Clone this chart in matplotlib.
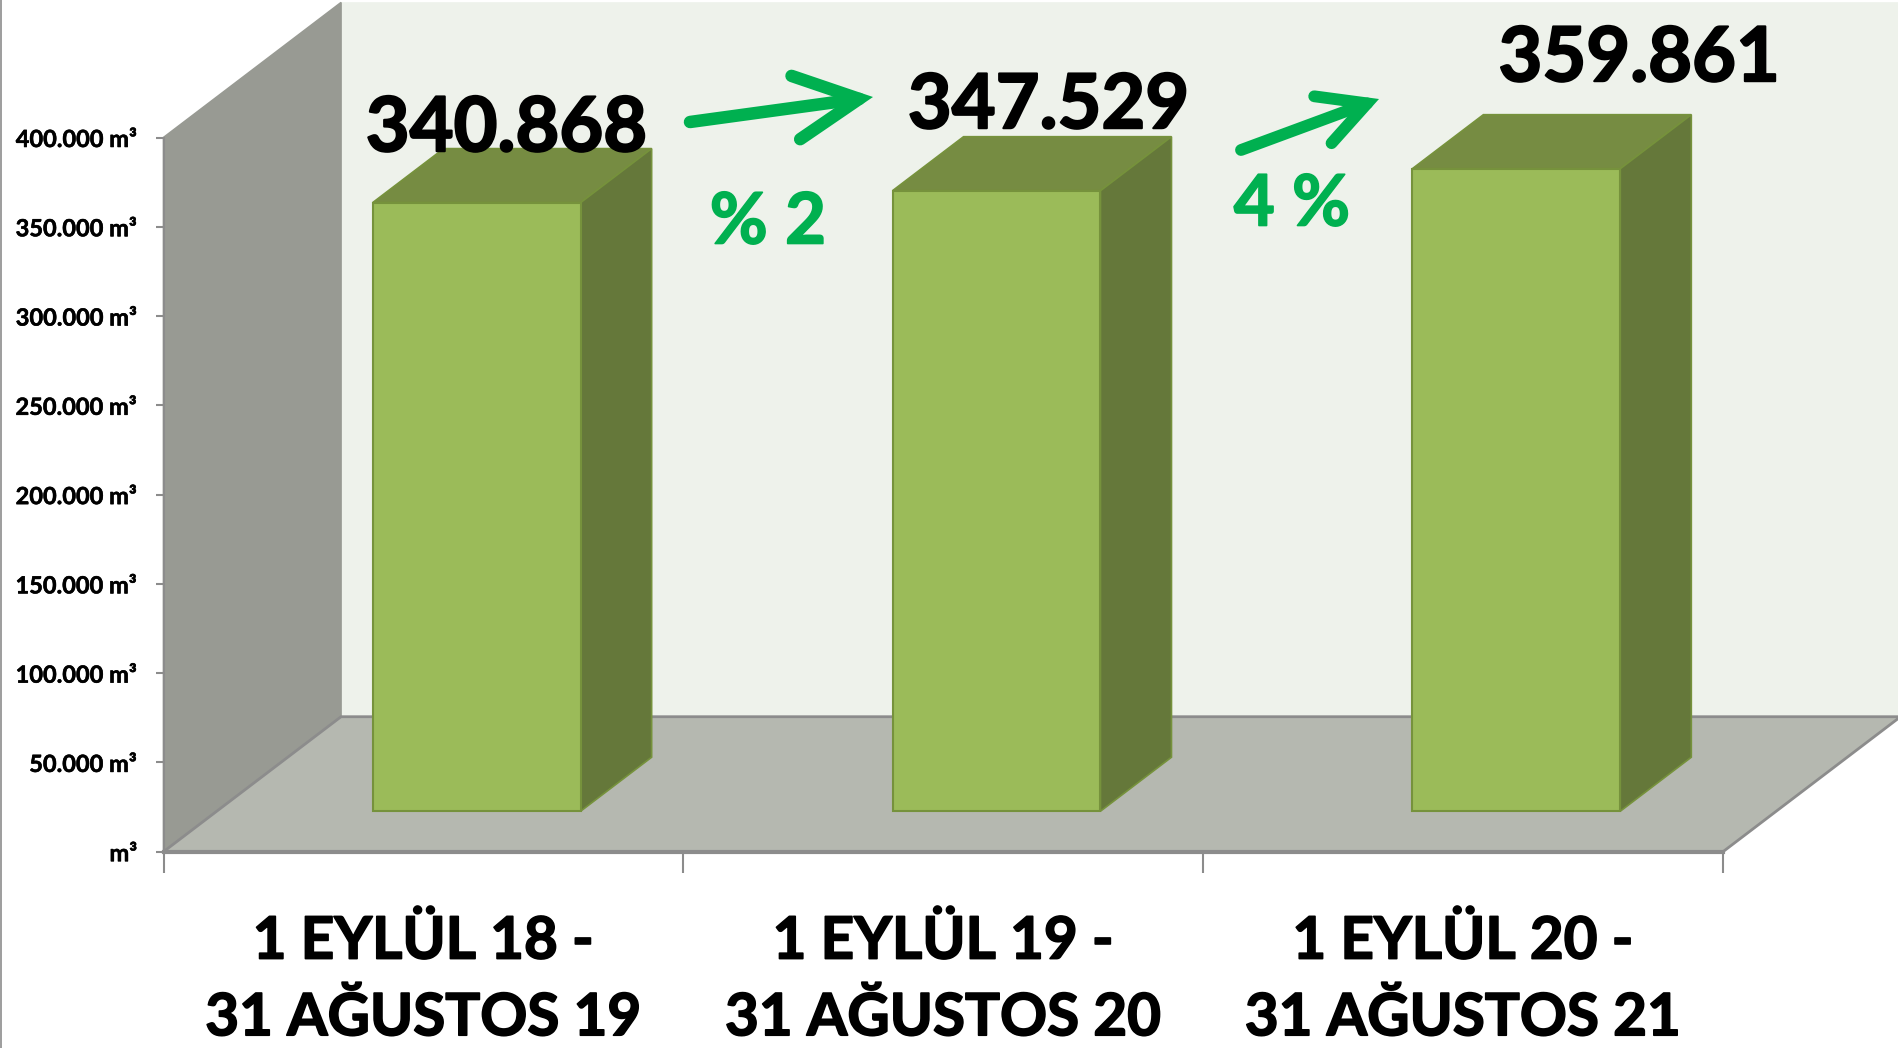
import matplotlib
matplotlib.use('Agg')
import matplotlib.pyplot as plt
import matplotlib.patheffects as pe
from matplotlib.lines import Line2D

plt.rcParams['font.family'] = ['Lato', 'DejaVu Sans']
plt.rcParams['font.weight'] = 'bold'

W, H = 1899, 1048

categories = ['1 EYLÜL 18 -\n31 AĞUSTOS 19', '1 EYLÜL 19 -\n31 AĞUSTOS 20', '1 EYLÜL 20 -\n31 AĞUSTOS 21']
volumes = [340868, 347529, 359861]
y_ticks = [0, 50000, 100000, 150000, 200000, 250000, 300000, 350000, 400000]
changes = ['% 2', '4 %']

GREEN = '#00B050'
FRONT, TOP, SIDE, EDGE = '#9BBB59', '#768C42', '#65783A', '#76923C'
WALL, BACK, FLOOR, LINE = '#989A93', '#EEF2EB', '#B5B8B0', '#8C8C8C'


def px(x, y):
    # reference pixel -> figure fraction
    return x / W, 1 - y / H


def number(v):
    return f'{v:,}'.replace(',', '.')


def heavy(t, lw, color):
    # Lato bold is a little lighter than the chart's font
    t.set_path_effects([pe.withStroke(linewidth=lw, foreground=color)])


def project(x, v, d):
    # oblique 3d look: d=0 is the front of the floor, d=1 the back wall
    return x + d * 0.3415, v + d * 75600


def face(ax, corners, color, edge=None, z=1, lw=1.2):
    pts = [project(*c) for c in corners]
    ax.fill([p[0] for p in pts], [p[1] for p in pts], facecolor=color,
            edgecolor=edge if edge else color, linewidth=lw, zorder=z, clip_on=False)


def bar3d(ax, i, v, width=0.4, d0=0.3, d1=0.7):
    x0, x1 = i + 0.5 - width / 2, i + 0.5 + width / 2
    face(ax, [(x0, v, d0), (x0, v, d1), (x1, v, d1), (x1, v, d0)], TOP, EDGE, 3)
    face(ax, [(x1, 0, d0), (x1, 0, d1), (x1, v, d1), (x1, v, d0)], SIDE, EDGE, 3)
    face(ax, [(x0, 0, d0), (x1, 0, d0), (x1, v, d0), (x0, v, d0)], FRONT, EDGE, 4, 1.5)


fig = plt.figure(figsize=(W / 100, H / 100), dpi=100, facecolor='white')
left, bottom = px(163.5, 851.7)
ax = fig.add_axes([left, bottom, 1559.5 / W, 714.2 / H])
ax.set_xlim(0, 3)
ax.set_ylim(0, 400000)
ax.patch.set_visible(False)
for s in ax.spines.values():
    s.set_visible(False)

# walls and floor
ymax = y_ticks[-1]
face(ax, [(0, 0, 1), (3, 0, 1), (3, ymax, 1), (0, ymax, 1)], BACK, z=0)
face(ax, [(0, 0, 0), (0, 0, 1), (0, ymax, 1), (0, ymax, 0)], WALL, z=1)
face(ax, [(0, 0, 0), (3, 0, 0), (3, 0, 1), (0, 0, 1)], FLOOR, LINE, z=2, lw=2)
ax.plot([0, 0], [0, ymax], color=LINE, lw=1.5, zorder=2, clip_on=False)
ax.plot([0, 3], [0, 0], color=LINE, lw=3, zorder=2, clip_on=False)

for i, v in enumerate(volumes):
    bar3d(ax, i, v)

ax.set_yticks(y_ticks)
ax.set_yticklabels([(number(v) + ' m³') if v else 'm³' for v in y_ticks], fontsize=17)
ax.tick_params(axis='y', length=6, width=1.5, color=LINE, pad=13)
for t in ax.get_yticklabels():
    t.set_verticalalignment('center_baseline')
    heavy(t, 0.4, 'black')
ax.set_xticks([0, 1, 2, 3])
ax.set_xticklabels([])
ax.tick_params(axis='x', length=15, width=1.5, color=LINE)
ax.set_xticks([0.5, 1.5, 2.5], labels=categories, minor=True)
ax.tick_params(axis='x', which='minor', length=0, pad=46, labelsize=42)
for t in ax.get_xticklabels(minor=True):
    t.set_linespacing(1.55)
    heavy(t, 1.2, 'black')

# hand placed value labels above each bar
label_offsets = [(-5, 37), (11, 45), (62, 63)]
for i, v in enumerate(volumes):
    t = ax.annotate(number(v), xy=project(i + 0.3, v, 0.3), xytext=label_offsets[i],
                    textcoords='offset points', ha='left', va='baseline', fontsize=54.5,
                    color='black', zorder=6, annotation_clip=False)
    heavy(t, 1.5, 'black')

# growth arrows
arrows = [((690, 122), (873, 97), 4.6, 2.3, 9), ((1241, 150), (1379, 99), 3.4, 1.8, 8.5)]
for start, tip, hl, hw, lw in arrows:
    ax.annotate('', xy=px(*tip), xytext=px(*start), xycoords='figure fraction',
                textcoords='figure fraction', zorder=6, annotation_clip=False,
                arrowprops=dict(arrowstyle=f'->,head_length={hl},head_width={hw}', color=GREEN,
                                lw=lw, mutation_scale=10, shrinkA=0, shrinkB=0,
                                joinstyle='miter', capstyle='round'))

for txt, pos in zip(changes, [(768, 223), (1292, 205)]):
    t = fig.text(*px(*pos), txt, color=GREEN, fontsize=51, ha='center', va='center', zorder=7)
    heavy(t, 1.2, GREEN)

fig.add_artist(Line2D([1 / W, 1 / W], [0, 1], color=LINE, lw=1.2))
fig.savefig('out.png', dpi=100)
